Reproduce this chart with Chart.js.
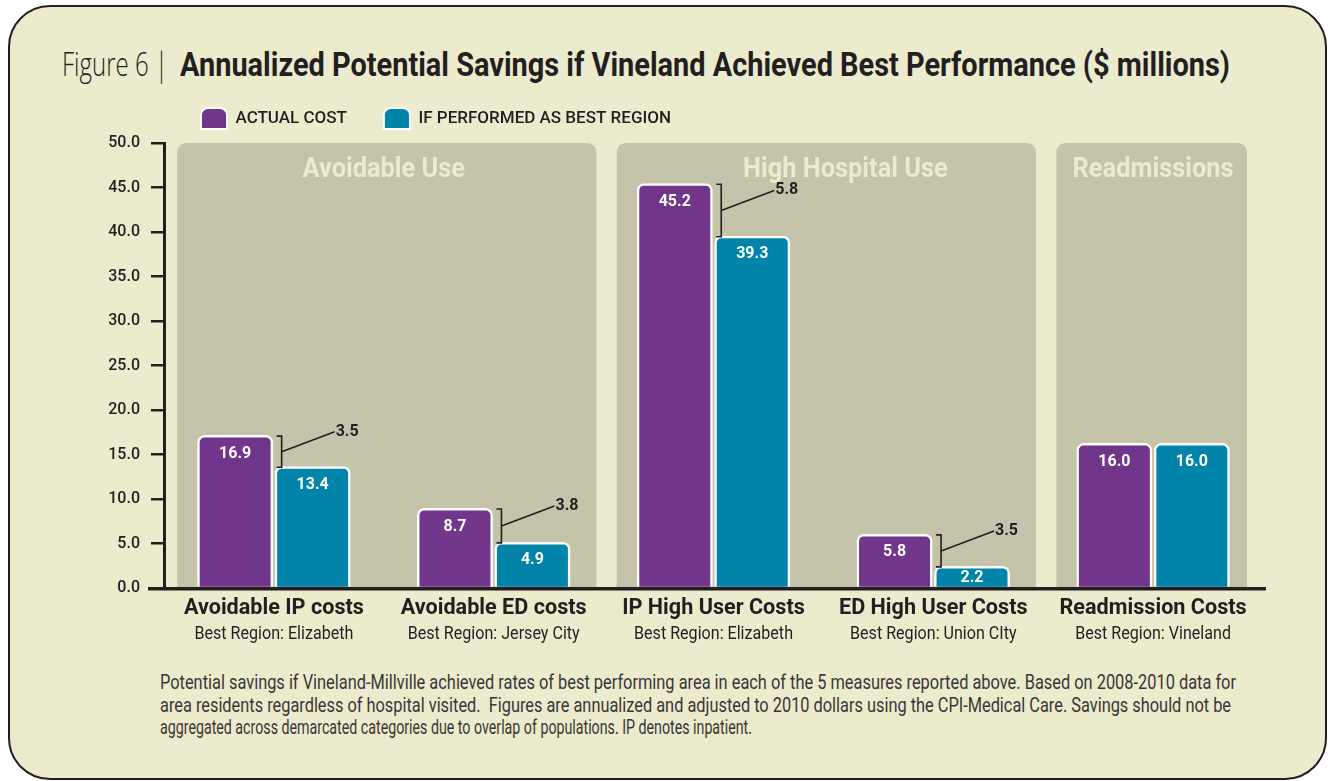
<!DOCTYPE html>
<html><head><meta charset="utf-8">
<script src="https://cdn.jsdelivr.net/npm/chart.js@4.4.1/dist/chart.umd.min.js"></script>
<style>
html,body{margin:0;padding:0;background:#fff;}
#wrap{position:relative;width:1328px;height:781px;overflow:hidden;}
#frame{position:absolute;left:8px;top:5px;width:1319px;height:775px;box-sizing:border-box;border:2.5px solid #231f20;border-radius:42px;background:#ecebce;}
#c{position:absolute;left:0;top:0;}
.t{position:absolute;white-space:pre;transform-origin:0 0;color:#231f20;}
#tl{left:62px;top:47px;font-family:"Open Sans",sans-serif;font-weight:300;font-size:33px;line-height:33px;}
#tb{left:180px;top:48px;font-family:"Liberation Sans Narrow",Roboto,sans-serif;font-weight:700;font-size:33px;line-height:33px;}
.fn{left:160px;font-family:"Liberation Sans Narrow",Roboto,sans-serif;font-size:20px;line-height:20px;color:#3a3637;}
</style></head>
<body>
<div id="wrap">
  <div id="frame"></div>
  <div class="t" id="tl" data-w="106">Figure 6 |</div>
  <div class="t" id="tb" data-w="1050">Annualized Potential Savings if Vineland Achieved Best Performance ($ millions)</div>
  <div class="t fn" style="top:672px" data-w="1076">Potential savings if Vineland-Millville achieved rates of best performing area in each of the 5 measures reported above. Based on 2008-2010 data for</div>
  <div class="t fn" style="top:695px" data-w="1071">area residents regardless of hospital visited.  Figures are annualized and adjusted to 2010 dollars using the CPI-Medical Care. Savings should not be</div>
  <div class="t fn" style="top:717px" data-w="592">aggregated across demarcated categories due to overlap of populations. IP denotes inpatient.</div>
  <canvas id="c" width="1328" height="781"></canvas>
</div>
<script>
// ---- data ----
const categories = ['Avoidable IP costs','Avoidable ED costs','IP High User Costs','ED High User Costs','Readmission Costs'];
const bestRegions = ['Best Region: Elizabeth','Best Region: Jersey City','Best Region: Elizabeth','Best Region: Union CIty','Best Region: Vineland'];
const actualCost = [16.9, 8.7, 45.2, 5.8, 16.0];
const bestRegionCost = [13.4, 4.9, 39.3, 2.2, 16.0];
const savingsLabels = [3.5, 3.8, 5.8, 3.5, null];
const groupNames = ['Avoidable Use','High Hospital Use','Readmissions'];
const groupStart = [0, 2, 4];
const groupEnd = [1, 3, 4];
const yTickValues = [0, 5, 10, 15, 20, 25, 30, 35, 40, 45, 50];
const seriesNames = ['ACTUAL COST', 'IF PERFORMED AS BEST REGION'];

// ---- styles ----
const DARK = '#231f20';
const PURPLE = '#71358a';
const TEAL = '#0084aa';
const PANEL = '#c5c4aa';
const PANEL_TXT = '#ecebcf';
const NARROW = '"Liberation Sans Narrow", Roboto, sans-serif';
const INFLATE = 2.5;

function fitText(){
  document.querySelectorAll('[data-w]').forEach(el=>{
    el.style.transform='none';
    const w = el.getBoundingClientRect().width;
    el.style.transform = 'scaleX(' + (+el.dataset.w / w) + ')';
  });
}
fitText();

function condensedFactor(ctx, font, sample, target){
  ctx.save(); ctx.font = font; const w = ctx.measureText(sample).width; ctx.restore();
  return target / w;
}
function drawCondensed(ctx, text, cx, y, font, sx, color){
  ctx.save();
  ctx.font = font; ctx.fillStyle = color; ctx.textAlign = 'center'; ctx.textBaseline = 'alphabetic';
  ctx.translate(cx, y); ctx.scale(sx, 1); ctx.fillText(text, 0, 0);
  ctx.restore();
}

const panelsPlugin = {
  id: 'panels',
  beforeDatasetsDraw(chart){
    const {ctx, chartArea, scales:{y}} = chart;
    const m0 = chart.getDatasetMeta(0).data, m1 = chart.getDatasetMeta(1).data;
    const font = 'bold 27px ' + NARROW;
    const sx = condensedFactor(ctx, font, groupNames[2], 161);
    const titleDx = [0, 22, 0];
    groupNames.forEach((name, g)=>{
      const a = m0[groupStart[g]], b = m1[groupEnd[g]];
      const l0 = a.x - a.width/2 - INFLATE, r0 = b.x + b.width/2 + INFLATE;
      const left = l0 - 20;
      const right = Math.min(r0 + 26, chartArea.right - 16);
      const top = y.getPixelForValue(50);
      ctx.save();
      ctx.fillStyle = PANEL;
      ctx.beginPath();
      ctx.roundRect(left, top, right-left, chartArea.bottom - top, [9,9,0,0]);
      ctx.fill();
      ctx.restore();
      const cx = (l0 + r0)/2 + titleDx[g];
      drawCondensed(ctx, name, cx, top + 34, font, sx, PANEL_TXT);
    });
  },
  afterDatasetsDraw(chart){
    const {ctx, chartArea, scales:{x}} = chart;
    const m0 = chart.getDatasetMeta(0).data, m1 = chart.getDatasetMeta(1).data;
    // x axis line
    ctx.save();
    ctx.strokeStyle = DARK; ctx.lineWidth = 3.5;
    ctx.beginPath(); ctx.moveTo(chartArea.left - 16, chartArea.bottom + 0.75); ctx.lineTo(chartArea.right + 3, chartArea.bottom + 0.75); ctx.stroke();
    ctx.restore();
    // value labels inside bars
    ctx.save();
    ctx.font = 'bold 16px Roboto, sans-serif';
    ctx.fillStyle = '#fff'; ctx.textAlign = 'center'; ctx.textBaseline = 'middle';
    [[m0, actualCost],[m1, bestRegionCost]].forEach(([els, vals])=>{
      els.forEach((el, i)=>{
        const h = el.base - el.y;
        ctx.fillText(vals[i].toFixed(1), el.x, el.y + Math.min(16, h*0.54));
      });
    });
    ctx.restore();
    // savings brackets
    ctx.save();
    ctx.strokeStyle = DARK; ctx.fillStyle = DARK; ctx.lineWidth = 1.6;
    ctx.font = 'bold 16px Roboto, sans-serif'; ctx.textAlign = 'left'; ctx.textBaseline = 'middle';
    savingsLabels.forEach((s, i)=>{
      if (s === null) return;
      const a = m0[i], b = m1[i];
      const bx = a.x + a.width/2 + 11;
      const top = a.y - 1.5, bot = b.y - 1.5;
      ctx.beginPath();
      ctx.moveTo(bx - 5, top); ctx.lineTo(bx, top); ctx.lineTo(bx, bot); ctx.lineTo(bx - 5, bot);
      ctx.stroke();
      const mid = (top + bot)/2;
      ctx.beginPath();
      ctx.moveTo(bx, mid); ctx.lineTo(bx + 53, mid - 20);
      ctx.stroke();
      ctx.fillText(s.toFixed(1), bx + 54, mid - 20);
    });
    ctx.restore();
    // category labels
    const catFont = 'bold 22px ' + NARROW;
    const subFont = '17.5px ' + NARROW;
    const sxc = condensedFactor(ctx, catFont, categories[0], 180);
    const sxs = condensedFactor(ctx, subFont, bestRegions[0], 159);
    categories.forEach((c, i)=>{
      const cx = x.getPixelForValue(i);
      drawCondensed(ctx, c, cx, chartArea.bottom + 26, catFont, sxc, DARK);
      drawCondensed(ctx, bestRegions[i], cx, chartArea.bottom + 51, subFont, sxs, DARK);
    });
  },
  afterLayout(chart){
    if (chart.legend) { chart.legend.top -= 4; chart.legend.bottom -= 4; }
  }
};

const barStyle = {
  borderColor: '#ffffff',
  borderWidth: {top: 2.5, left: 2.5, right: 2.5, bottom: 0},
  borderRadius: {topLeft: 7, topRight: 7, bottomLeft: 0, bottomRight: 0},
  borderSkipped: 'bottom',
  inflateAmount: INFLATE,
  categoryPercentage: 0.705,
  barPercentage: 0.916
};

new Chart(document.getElementById('c'), {
  type: 'bar',
  data: {
    labels: categories,
    datasets: [
      Object.assign({label: seriesNames[0], data: actualCost, backgroundColor: PURPLE}, barStyle),
      Object.assign({label: seriesNames[1], data: bestRegionCost, backgroundColor: TEAL}, barStyle)
    ]
  },
  options: {
    responsive: false,
    animation: false,
    layout: {padding: {left: 84, right: 65, top: 75, bottom: 193}},
    plugins: {
      tooltip: {enabled: false},
      legend: {
        position: 'top', align: 'start', fullSize: false,
        labels: {
          boxWidth: 26, boxHeight: 21, padding: 37, color: DARK,
          useBorderRadius: true,
          font: {family: 'Roboto', size: 17, weight: '500'}
        }
      }
    },
    scales: {
      x: {display: false, offset: true},
      y: {
        min: 0, max: 50,
        afterFit: s => { s.width = 80; },
        afterBuildTicks: s => { s.ticks = yTickValues.map(v => ({value: v})); },
        border: {display: true, color: DARK, width: 3},
        grid: {drawOnChartArea: false, color: DARK, lineWidth: 2.5, tickLength: 13},
        ticks: {
          padding: 11, color: DARK,
          font: {family: 'Roboto', size: 16, weight: '500'},
          callback: v => Number(v).toFixed(1)
        }
      }
    }
  },
  plugins: [panelsPlugin]
});
</script>
</body></html>
